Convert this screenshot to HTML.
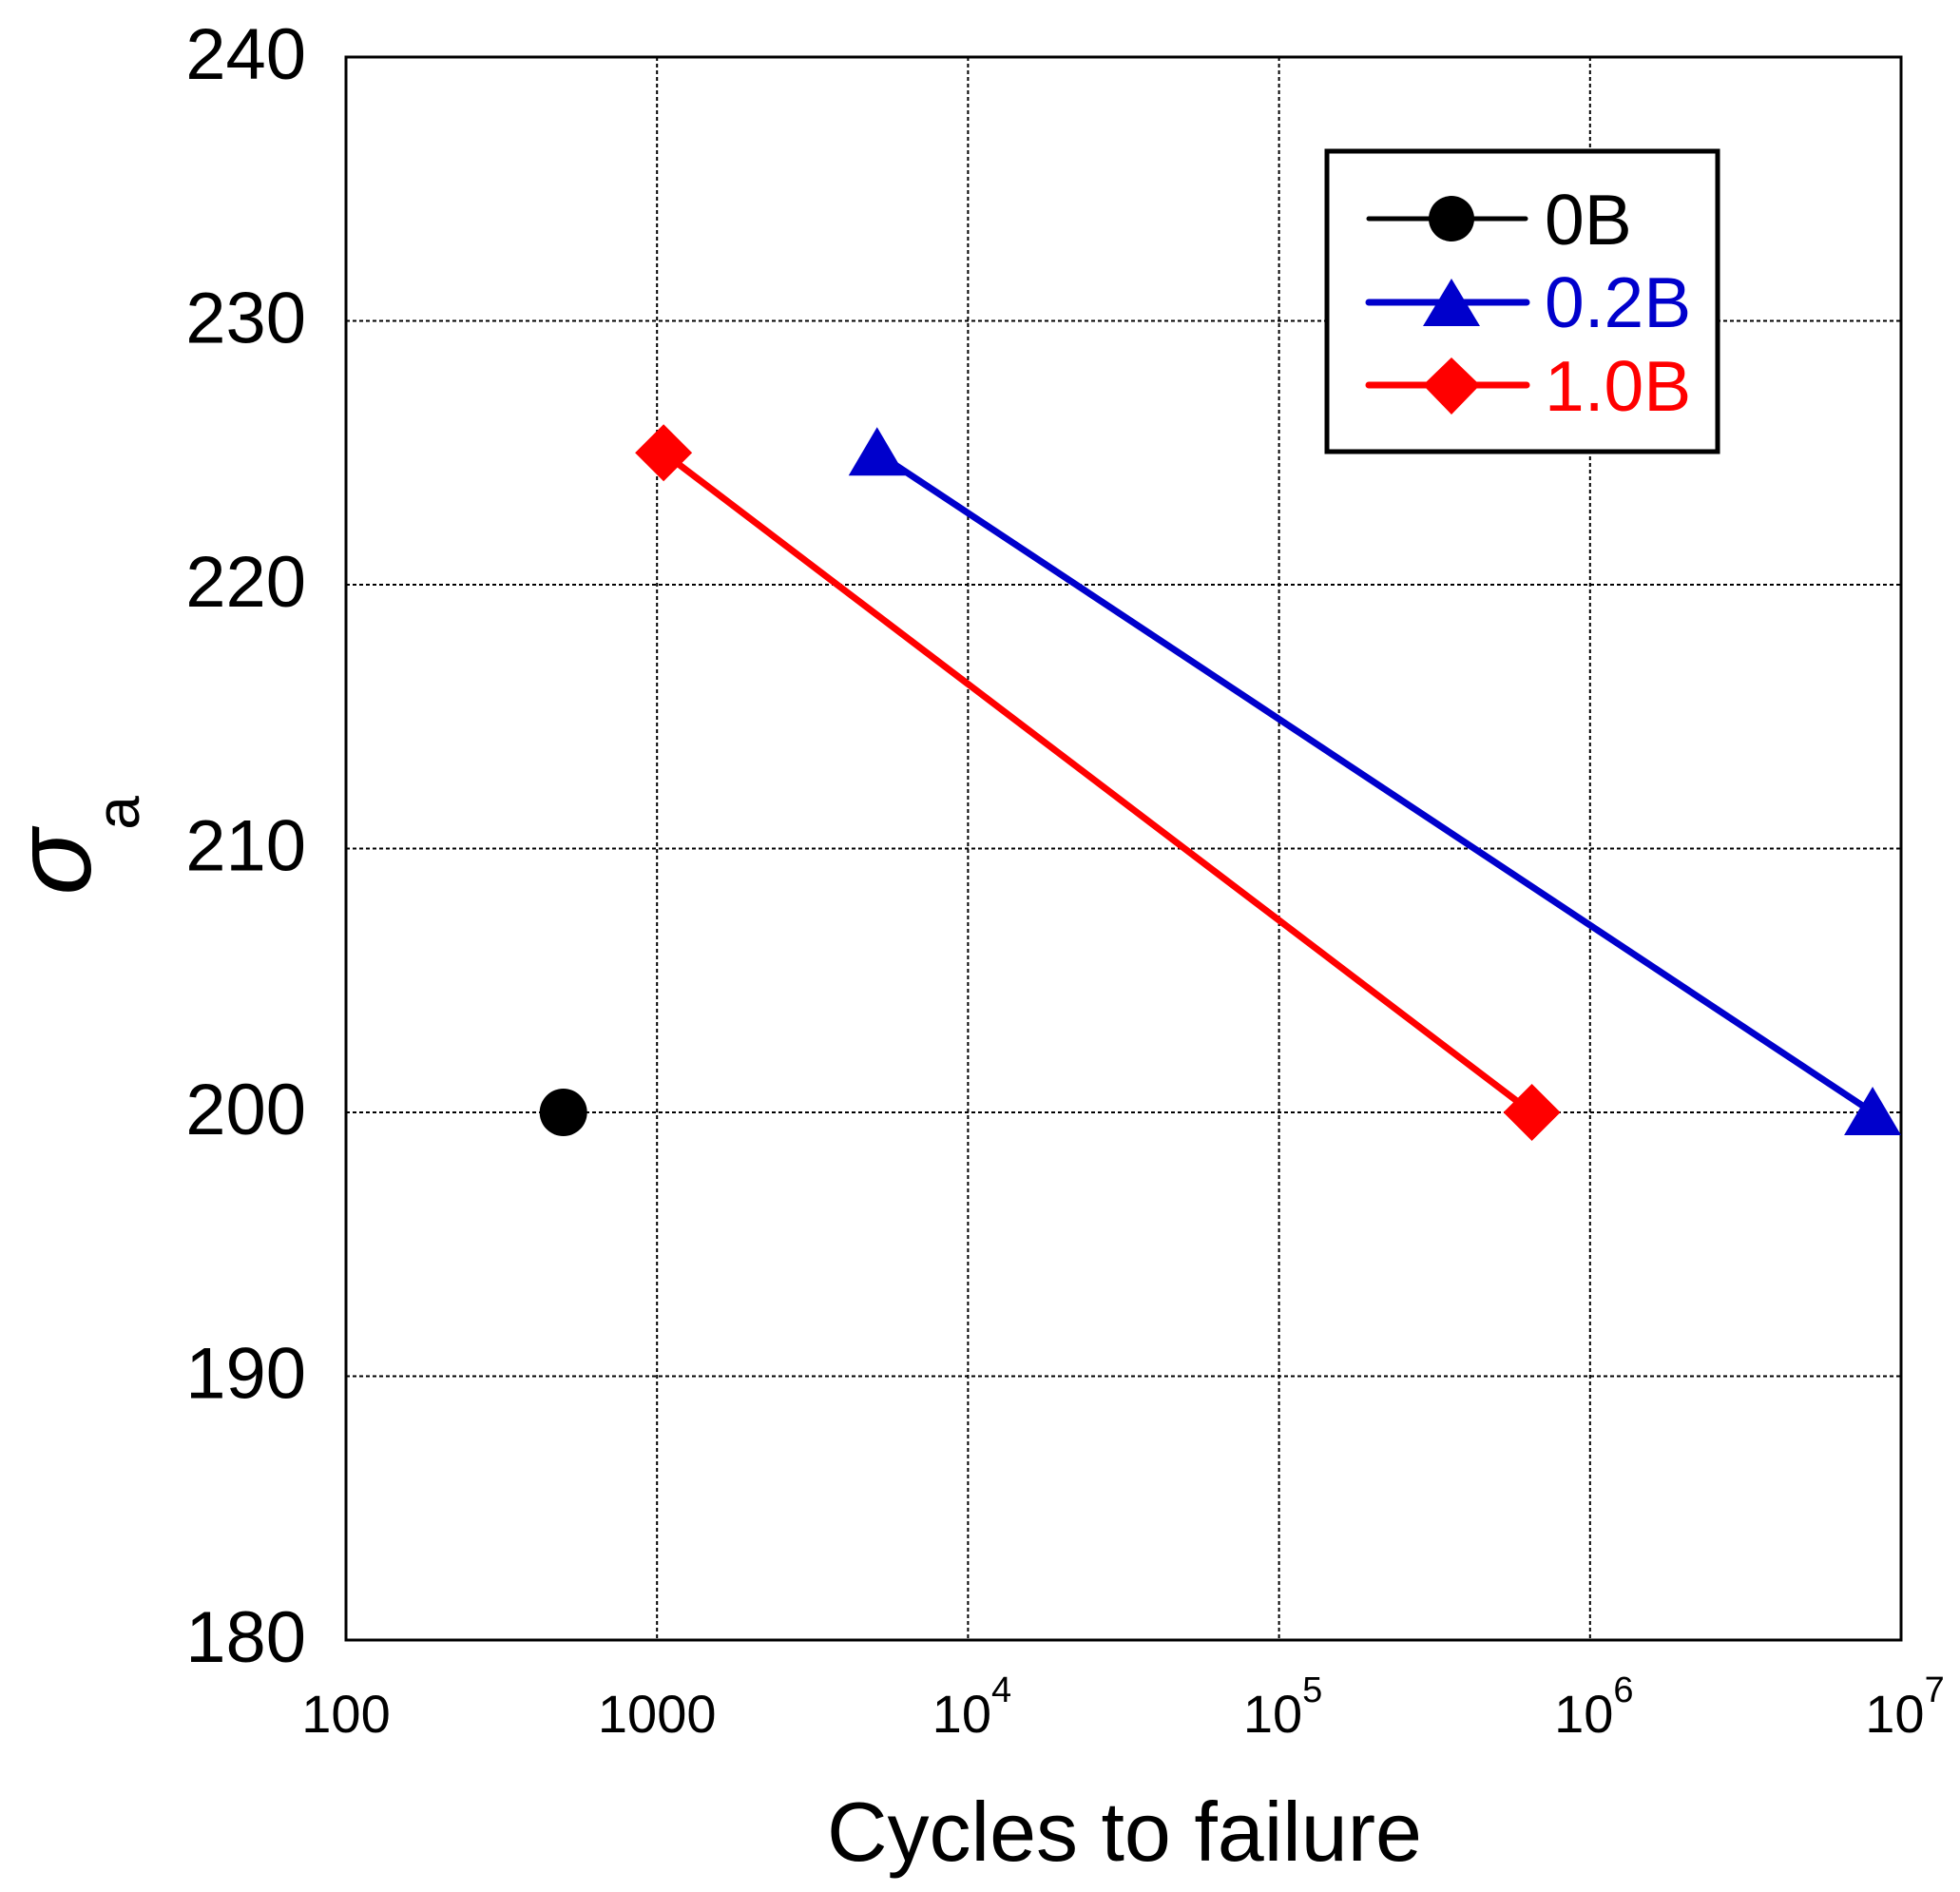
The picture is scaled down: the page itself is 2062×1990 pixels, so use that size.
<!DOCTYPE html>
<html><head><meta charset="utf-8"><style>
html,body{margin:0;padding:0;background:#fff}
svg{display:block;font-family:"Liberation Sans",Arial,sans-serif}
</style></head><body>
<svg id="chart" width="2062" height="1990" viewBox="0 0 2062 1990">
<g id="grid"></g>
<g id="axes"></g>
<g id="series"></g>
<text x="1183" y="1957" font-size="88" text-anchor="middle">Cycles to failure</text>
<g>
<text transform="translate(95,907) rotate(-90)" font-size="115" text-anchor="middle" font-style="italic">σ</text>
<text transform="translate(146,855) rotate(-90)" font-size="64" text-anchor="middle">a</text>
</g>
<g>
<rect x="1396" y="159" width="411" height="316" fill="#fff" stroke="#000" stroke-width="5"/>
<g>
<line x1="1440" y1="230" x2="1605" y2="230" stroke="#000" stroke-width="5" stroke-linecap="round"/>
<circle cx="1527" cy="230" r="24" fill="#000"/>
<text x="1625" y="257" font-size="75" fill="#000">0B</text></g>
<g>
<line x1="1440" y1="318" x2="1606" y2="318" stroke="#0000CC" stroke-width="7" stroke-linecap="round"/>
<polygon points="1527,293 1557,343 1497,343" fill="#0000CC"/>
<text x="1625" y="344" font-size="75" fill="#0000CC">0.2B</text></g>
<g>
<line x1="1440" y1="405" x2="1606" y2="405" stroke="#FF0000" stroke-width="7" stroke-linecap="round"/>
<polygon points="1527,376 1557,405 1527,436 1497,405" fill="#FF0000"/>
<text x="1625" y="432" font-size="75" fill="#FF0000">1.0B</text></g>
</g>
</svg>
<script>
const yTicks=[180,190,200,210,220,230,240];
const xTickExps=[2,3,4,5,6,7];
const xTickLabels=["100","1000","10","10","10","10"];
const xTickSups=["","","4","5","6","7"];
const s0B_x=[500];const s0B_y=[200];
const s02B_x=[5100,8100000];const s02B_y=[225,200];
const s10B_x=[1050,650000];const s10B_y=[225,200];
const L=364,R=2000,T=60,B=1725;
const X=v=>L+(Math.log10(v)-2)/5*(R-L);
const Y=v=>B-(v-180)/60*(B-T);
const NS="http://www.w3.org/2000/svg";
function mk(t,a,p){const e=document.createElementNS(NS,t);for(const k in a)e.setAttribute(k,a[k]);p.appendChild(e);return e;}
const g=document.getElementById('grid'),ax=document.getElementById('axes'),se=document.getElementById('series');
yTicks.forEach(v=>{
 const l=mk('line',{x1:L,x2:R,y1:Y(v),y2:Y(v),stroke:'#000','stroke-width':2,'stroke-dasharray':'4,3'},g);
 
 
 const t=mk('text',{x:322,y:Y(v)+23,'font-size':76,'text-anchor':'end'},ax);t.textContent=v;
 
 
});
xTickExps.forEach((e,i)=>{
 const x=X(Math.pow(10,e));
 const l=mk('line',{x1:x,x2:x,y1:T,y2:B,stroke:'#000','stroke-width':2,'stroke-dasharray':'4,3'},g);
 
 
 const t=mk('text',{x:x,y:1822,'font-size':56,'text-anchor':'middle'},ax);
 
 
 t.textContent=xTickLabels[i];
 if(xTickSups[i]){const s=mk('tspan',{dy:-32,'font-size':38},t);s.textContent=xTickSups[i];t.setAttribute('x',x+4);}
});
const fr=mk('rect',{x:L,y:T,width:R-L,height:B-T,fill:'none',stroke:'#000','stroke-width':3},ax);


function line(xs,ys,c,name){const p=mk('polyline',{points:xs.map((x,i)=>X(x)+','+Y(ys[i])).join(' '),fill:'none',stroke:c,'stroke-width':7},se);
 
 }
line(s02B_x,s02B_y,'#0000CC','line-0-2b');
line(s10B_x,s10B_y,'#FF0000','line-1-0b');
s0B_x.forEach((x,i)=>{const c=mk('circle',{cx:X(x),cy:Y(s0B_y[i]),r:25,fill:'#000'},se);
 
 });
s02B_x.forEach((x,i)=>{const cx=X(x),cy=Y(s02B_y[i]);const p=mk('polygon',{points:`${cx},${cy-27} ${cx+30},${cy+24} ${cx-30},${cy+24}`,fill:'#0000CC'},se);
 
 });
s10B_x.forEach((x,i)=>{const cx=X(x),cy=Y(s10B_y[i]);const p=mk('polygon',{points:`${cx},${cy-30} ${cx+30},${cy} ${cx},${cy+30} ${cx-30},${cy}`,fill:'#FF0000'},se);
 
 });
</script>
</body></html>
